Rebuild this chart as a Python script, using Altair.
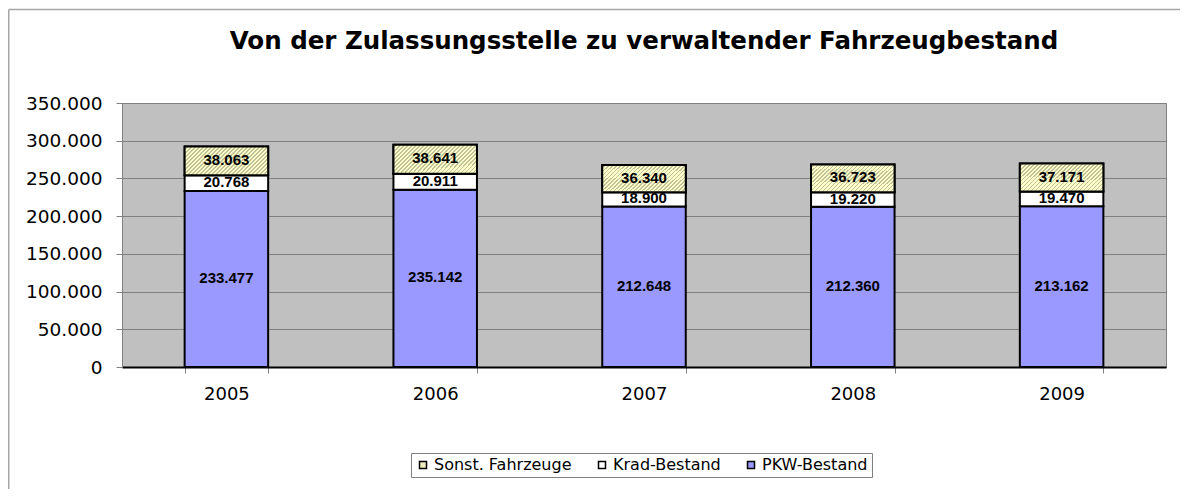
import altair as alt
import pandas as pd

years = ["2005", "2006", "2007", "2008", "2009"]
pkw = [233477, 235142, 212648, 212360, 213162]
krad = [20768, 20911, 18900, 19220, 19470]
sonst = [38063, 38641, 36340, 36723, 37171]
series_names = ["Sonst. Fahrzeuge", "Krad-Bestand", "PKW-Bestand"]
series_colors = ["#EEEEBB", "#FFFFFF", "#9999FF"]
y_ticks = [0, 50000, 100000, 150000, 200000, 250000, 300000, 350000]
title_text = "Von der Zulassungsstelle zu verwaltender Fahrzeugbestand"

FONT = "Liberation Sans"
AXFONT = "DejaVu Sans"
W, H = 1044, 264
PAD_L, PAD_T = 114, 95
SVG_W, SVG_H = 1172, 481

rows = []
for i, yr in enumerate(years):
    base = 0
    for name, vals in [("PKW-Bestand", pkw), ("Krad-Bestand", krad), ("Sonst. Fahrzeuge", sonst)]:
        v = vals[i]
        rows.append(dict(year=yr, series=name, value=v, start=base, end=base + v,
                         mid=base + v / 2, label=f"{v:,}".replace(",", ".")))
        base += v
df = pd.DataFrame(rows)

# diagonal hatch gradient
N = 28
stops = []
for k in range(N):
    a = k / N
    b = (k + 0.62) / N
    c = (k + 1) / N
    stops += [
        alt.GradientStop(offset=a, color="#FFFFCC"),
        alt.GradientStop(offset=b, color="#FFFFCC"),
        alt.GradientStop(offset=b, color="#C2C298"),
        alt.GradientStop(offset=c, color="#C2C298"),
    ]
hatch = alt.Gradient(gradient="linear", stops=stops, x1=0, y1=0, x2=1.2, y2=0.414)

x_scale = alt.Scale(paddingInner=0.6, paddingOuter=0.3)
x_axis = alt.Axis(title=None, labelAngle=0, labelFontSize=18, labelFont=AXFONT,
                  labelColor="black", tickSize=6, tickColor="#808080", tickBand="extent",
                  domainColor="black", domainWidth=2, labelPadding=12)
y_scale = alt.Scale(domain=[0, 350000], nice=False)
y_axis = alt.Axis(title=None, values=y_ticks, labelFontSize=18.5, labelFont=AXFONT,
                  labelColor="black", tickSize=6, tickColor="#808080",
                  domainColor="#808080", gridColor="#808080", grid=True,
                  labelPadding=14, labelOverlap=False,
                  labelExpr="replace(format(datum.value, ','), regexp(',', 'g'), '.')")


def X():
    return alt.X("year:N", scale=x_scale, axis=x_axis)


def Y(field):
    return alt.Y(field, scale=y_scale, axis=y_axis)


base = alt.Chart(df)

bars = base.mark_bar(stroke="black", strokeWidth=2, opacity=1).encode(
    x=X(),
    y=Y("end:Q"),
    y2="start:Q",
    color=alt.Color(
        "series:N",
        scale=alt.Scale(domain=series_names, range=series_colors),
        legend=alt.Legend(
            title=None, orient="none", legendX=289, legendY=350, direction="horizontal",
            labelFontSize=16, labelFont=AXFONT, labelColor="black",
            symbolType="square", symbolSize=49, symbolStrokeColor="black",
            symbolStrokeWidth=1.5, symbolOpacity=1, strokeColor="#808080", fillColor="white",
            padding=4, columnPadding=22, labelOffset=3,
        ),
    ),
)

hatched = base.transform_filter(alt.datum.series == "Sonst. Fahrzeuge").mark_bar(
    fill=hatch, stroke="black", strokeWidth=2
).encode(x=X(), y=Y("end:Q"), y2="start:Q")

labels = base.mark_text(font=FONT, fontSize=15, fontWeight="bold", color="black",
                        baseline="middle", dy=-1).encode(
    x=X(), y=Y("mid:Q"), text="label:N"
)

frame_df = pd.DataFrame({"k": [0]})
top_border = alt.Chart(frame_df).mark_rule(color="#A6A6A6", strokeWidth=1.5).encode(
    x=alt.value(-PAD_L + 0.75), x2=alt.value(SVG_W - PAD_L), y=alt.value(-PAD_T + 1.5)
)
left_border = alt.Chart(frame_df).mark_rule(color="#A6A6A6", strokeWidth=1.5).encode(
    x=alt.value(-PAD_L + 0.75), y=alt.value(-PAD_T + 1.5), y2=alt.value(SVG_H - PAD_T)
)

chart = alt.layer(bars, hatched, labels, top_border, left_border).properties(
    width=W, height=H,
    title=alt.TitleParams(title_text, font=AXFONT, fontSize=24.5, fontWeight="bold",
                          color="black", anchor="middle", frame="group",
                          baseline="alphabetic", offset=0, dy=65),
    autosize=alt.AutoSizeParams(type="none"),
    padding={"left": PAD_L, "top": PAD_T, "right": SVG_W - PAD_L - W, "bottom": SVG_H - PAD_T - H},
    background="white",
).configure_view(fill="#C0C0C0", stroke="#808080", strokeWidth=1)

chart.save("out.html", embed_options={"renderer": "svg", "actions": False})
